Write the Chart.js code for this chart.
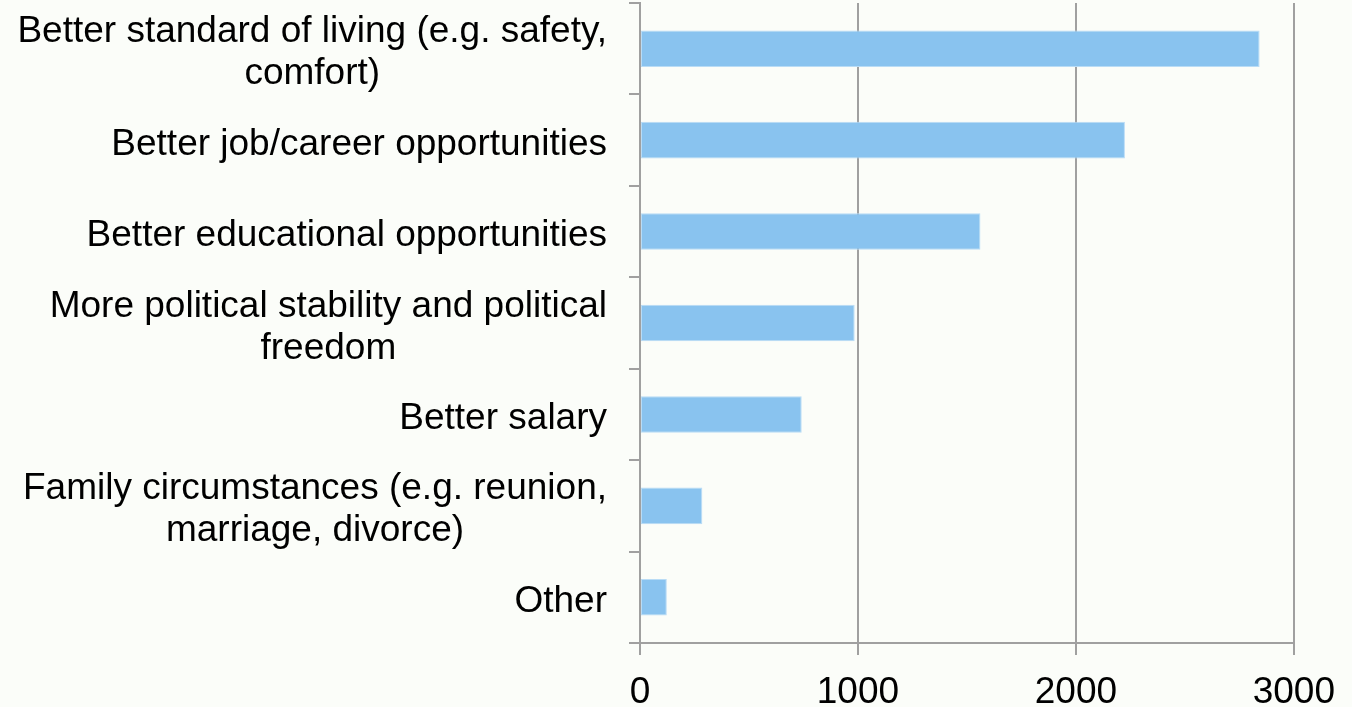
<!DOCTYPE html>
<html>
<head>
<meta charset="utf-8">
<script src="https://cdn.jsdelivr.net/npm/chart.js@4/dist/chart.umd.min.js"></script>
<style>
  html, body { margin: 0; padding: 0; background: #fbfdf9; }
  #wrap { width: 1352px; height: 707px; position: relative; }
</style>
</head>
<body>
<div id="wrap"><canvas id="reasons"></canvas></div>
<script>
// reasons for moving, number of answers
var reasons = [
  ["Better standard of living (e.g. safety,", "comfort)"],
  "Better job/career opportunities",
  "Better educational opportunities",
  ["More political stability and political", "freedom"],
  "Better salary",
  ["Family circumstances (e.g. reunion,", "marriage, divorce)"],
  "Other"
];
var answers = [2843, 2225, 1562, 985, 742, 286, 123];
var xTicks = [0, 1000, 2000, 3000];

var fontFamily = "'Liberation Sans', Arial, sans-serif";
var labelFont = { family: fontFamily, size: 37, lineHeight: 1.135 };

// category labels: block right aligned next to the axis, lines centred inside the block
var categoryLabels = {
  id: 'categoryLabels',
  afterDraw: function(chart) {
    var ctx = chart.ctx;
    var ys = chart.scales.y;
    var right = ys.right - 33;
    var lh = 42;
    ctx.save();
    ctx.font = '37px ' + fontFamily;
    ctx.fillStyle = '#000';
    ctx.textAlign = 'center';
    ctx.textBaseline = 'alphabetic';
    chart.data.labels.forEach(function(lbl, i) {
      var lines = Array.isArray(lbl) ? lbl : [lbl];
      var widest = 0;
      lines.forEach(function(l) { widest = Math.max(widest, ctx.measureText(l).width); });
      var cx = right - widest / 2;
      var cy = ys.getPixelForTick(i) + 14.6;
      lines.forEach(function(l, j) {
        ctx.fillText(l, cx, cy + (j - (lines.length - 1) / 2) * lh);
      });
    });
    ctx.restore();
  }
};

var cfg = {
  type: 'bar',
  data: {
    labels: reasons,
    datasets: [{
      data: answers,
      backgroundColor: '#89c3ef',
      borderColor: '#b9dcf6',
      borderWidth: 1,
      borderSkipped: false,
      categoryPercentage: 1,
      barPercentage: 0.4
    }]
  },
  options: {
    indexAxis: 'y',
    responsive: false,
    animation: false,
    layout: { padding: { left: 0, right: 57, top: 3, bottom: 0 } },
    plugins: { legend: { display: false }, tooltip: { enabled: false } },
    scales: {
      x: {
        min: xTicks[0],
        max: xTicks[xTicks.length - 1],
        afterBuildTicks: function(scale) {
          scale.ticks = xTicks.map(function(v) { return { value: v }; });
        },
        afterFit: function(scale) { scale.height = 64; },
        grid: { color: '#a0a0a0', lineWidth: 2, tickLength: 12, drawTicks: true },
        border: { display: true, color: '#a0a0a0', width: 2 },
        ticks: {
          color: '#000', font: labelFont, padding: 17, maxRotation: 0,
          callback: function(v) { return String(v); }
        }
      },
      y: {
        afterFit: function(scale) { scale.width = 640; },
        grid: { color: '#a0a0a0', lineWidth: 2, tickLength: 11, drawOnChartArea: false, offset: true },
        border: { display: true, color: '#a0a0a0', width: 2 },
        ticks: { display: false }
      }
    }
  },
  plugins: [categoryLabels]
};

var cv = document.getElementById('reasons');
cv.width = 1352;
cv.height = 707;
var chart = new Chart(cv, cfg);
</script>
</body>
</html>
